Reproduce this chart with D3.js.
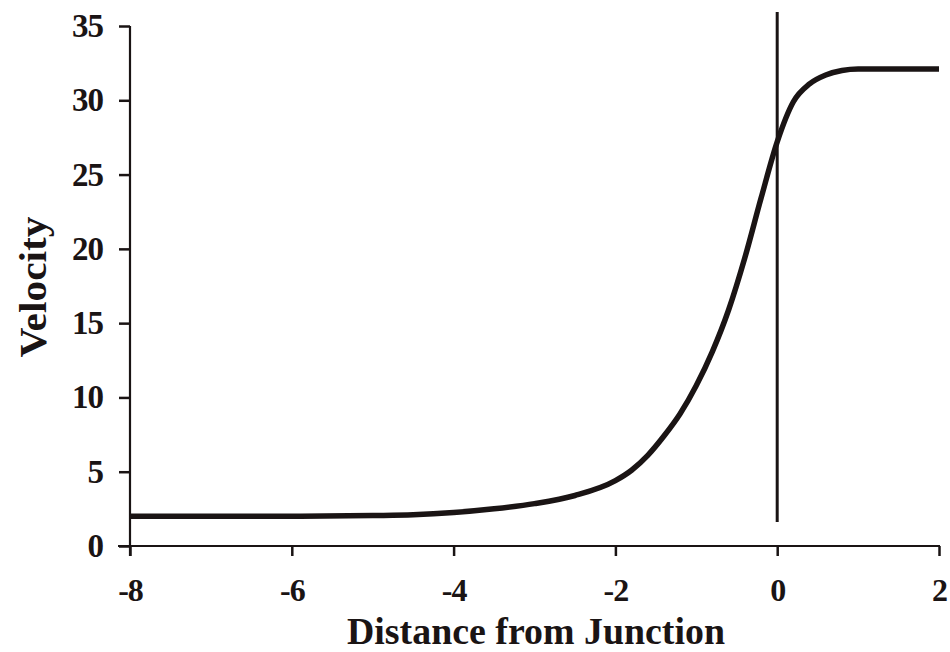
<!DOCTYPE html>
<html><head><meta charset="utf-8">
<script src="https://cdn.jsdelivr.net/npm/d3@7"></script>
<style>body{margin:0;background:#fff}svg{display:block}</style>
</head><body>
<svg id="c" width="950" height="652"></svg>
<script>
const distance = [-8,-7,-6,-5,-4.5,-4,-3.5,-3,-2.5,-2,-1.8,-1.6,-1.4,-1.2,-1,-0.8,-0.6,-0.4,-0.2,0,0.2,0.4,0.6,0.8,1,1.5,2];
const velocity = [2.0,2.0,2.0,2.05,2.1,2.25,2.5,2.85,3.4,4.4,5.1,6.1,7.4,8.9,10.8,13.1,15.9,19.4,23.4,27.2,29.9,31.1,31.7,32.0,32.1,32.1,32.1];
const xTicks = [-8,-6,-4,-2,0,2];
const yTicks = [0,5,10,15,20,25,30,35];
const xTitle = "Distance from Junction";
const yTitle = "Velocity";
const junctionX = 0;

const svg = d3.select("#c");
const x = d3.scaleLinear().domain([-8,2]).range([130,939]);
const y = d3.scaleLinear().domain([0,35]).range([546,26]);
const font = "'Liberation Serif','Times New Roman',serif";
const ink = "#1a1414";

// x axis
const gx = svg.append("g").attr("transform",`translate(0,${y(0)})`)
  .call(d3.axisBottom(x).tickValues(xTicks).tickSize(10).tickSizeOuter(0).tickPadding(22).tickFormat(d3.format("d")));
gx.select(".domain").attr("stroke",ink).attr("stroke-width",2.2).attr("d",`M${x(-8)-12},0H${x(2)+1}`);
gx.selectAll(".tick line").attr("stroke",ink).attr("stroke-width",2.5);
gx.selectAll(".tick text").attr("fill",ink).attr("font-family",font).attr("font-weight","bold")
  .attr("font-size",32).attr("letter-spacing",-1).text(d=>d<0?"-"+Math.abs(d):d);

// y axis
const gy = svg.append("g").attr("transform",`translate(${x(-8)},0)`)
  .call(d3.axisLeft(y).tickValues(yTicks).tickSize(11).tickSizeOuter(0).tickPadding(16).tickFormat(d3.format("d")));
gy.select(".domain").attr("stroke",ink).attr("stroke-width",2.2).attr("d",`M0,${y(35)}V${y(0)+10}`);
gy.selectAll(".tick line").attr("stroke",ink).attr("stroke-width",2.5);
gy.selectAll(".tick text").attr("fill",ink).attr("font-family",font).attr("font-weight","bold")
  .attr("font-size",33).attr("letter-spacing",-1);

// junction line
svg.append("line").attr("x1",x(junctionX)).attr("x2",x(junctionX)).attr("y1",12).attr("y2",522)
  .attr("stroke",ink).attr("stroke-width",3);

// curve
const line = d3.line().x((d,i)=>x(distance[i])).y(d=>y(d)).curve(d3.curveMonotoneX);
svg.append("path").datum(velocity).attr("d",line).attr("fill","none")
  .attr("stroke",ink).attr("stroke-width",5.5).attr("stroke-linejoin","round");

// titles
svg.append("text").attr("x",536).attr("y",644).attr("text-anchor","middle")
  .attr("font-family",font).attr("font-weight","bold").attr("font-size",37).attr("fill",ink)
  .attr("textLength",378).attr("lengthAdjust","spacingAndGlyphs").text(xTitle);
svg.append("text").attr("transform","translate(46,287) rotate(-90)").attr("text-anchor","middle")
  .attr("font-family",font).attr("font-weight","bold").attr("font-size",38).attr("fill",ink)
  .attr("textLength",141).attr("lengthAdjust","spacingAndGlyphs").text(yTitle);
</script>
</body></html>
